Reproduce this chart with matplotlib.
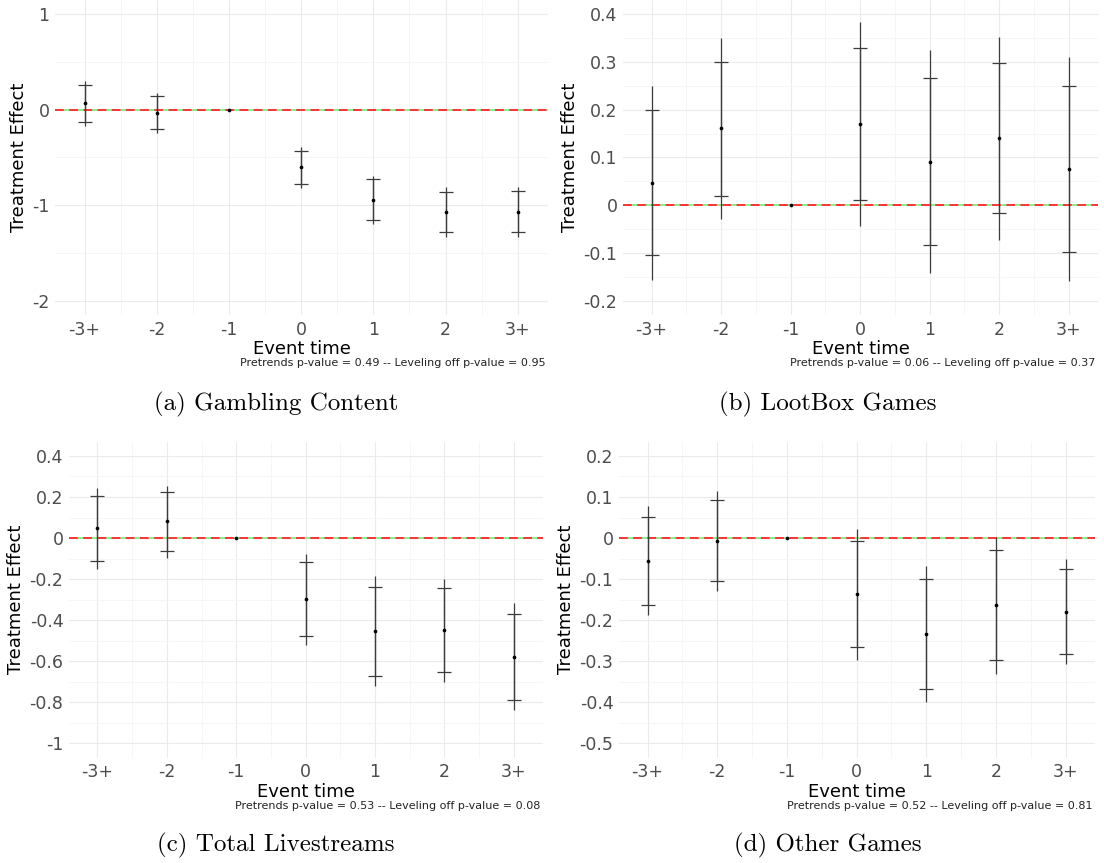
import numpy as np
import matplotlib.pyplot as plt
from matplotlib.ticker import FixedLocator

# event-study estimates
event_labels = ["-3+", "-2", "-1", "0", "1", "2", "3+"]
nan = np.nan

gambling_est = [0.07, -0.03, 0.0, -0.60, -0.946, -1.07, -1.068]
gambling_ci_lo = [-0.129, -0.20, nan, -0.776, -1.155, -1.284, -1.284]
gambling_ci_hi = [0.264, 0.143, nan, -0.43, -0.73, -0.86, -0.85]
gambling_sup_lo = [-0.17, -0.244, nan, -0.818, -1.20, -1.333, -1.333]
gambling_sup_hi = [0.30, 0.177, nan, -0.393, -0.696, -0.814, -0.81]

lootbox_est = [0.047, 0.161, 0.0, 0.170, 0.091, 0.141, 0.076]
lootbox_ci_lo = [-0.104, 0.020, nan, 0.010, -0.083, -0.016, -0.099]
lootbox_ci_hi = [0.199, 0.301, nan, 0.329, 0.266, 0.299, 0.250]
lootbox_sup_lo = [-0.157, -0.029, nan, -0.044, -0.143, -0.072, -0.159]
lootbox_sup_hi = [0.250, 0.350, nan, 0.383, 0.326, 0.353, 0.310]

streams_est = [0.047, 0.081, 0.0, -0.299, -0.453, -0.448, -0.578]
streams_ci_lo = [-0.114, -0.062, nan, -0.478, -0.671, -0.652, -0.788]
streams_ci_hi = [0.206, 0.224, nan, -0.119, -0.237, -0.245, -0.369]
streams_sup_lo = [-0.151, -0.096, nan, -0.522, -0.723, -0.702, -0.840]
streams_sup_hi = [0.242, 0.255, nan, -0.076, -0.187, -0.198, -0.318]

other_est = [-0.055, -0.0065, 0.0, -0.136, -0.234, -0.164, -0.179]
other_ci_lo = [-0.162, -0.104, nan, -0.266, -0.367, -0.298, -0.282]
other_ci_hi = [0.051, 0.092, nan, -0.007, -0.100, -0.030, -0.076]
other_sup_lo = [-0.188, -0.128, nan, -0.297, -0.400, -0.331, -0.307]
other_sup_hi = [0.077, 0.115, nan, 0.023, -0.069, 0.002, -0.051]

captions = ["(a) Gambling Content", "(b) LootBox Games",
            "(c) Total Livestreams", "(d) Other Games"]
pvalue_notes = [
    "Pretrends p-value = 0.49 -- Leveling off p-value = 0.95",
    "Pretrends p-value = 0.06 -- Leveling off p-value = 0.37",
    "Pretrends p-value = 0.53 -- Leveling off p-value = 0.08",
    "Pretrends p-value = 0.52 -- Leveling off p-value = 0.81",
]
y_ranges = [(-2, 1), (-0.2, 0.4), (-1, 0.4), (-0.5, 0.2)]
y_steps = [1.0, 0.1, 0.2, 0.1]

series = [
    (gambling_est, gambling_ci_lo, gambling_ci_hi, gambling_sup_lo, gambling_sup_hi),
    (lootbox_est, lootbox_ci_lo, lootbox_ci_hi, lootbox_sup_lo, lootbox_sup_hi),
    (streams_est, streams_ci_lo, streams_ci_hi, streams_sup_lo, streams_sup_hi),
    (other_est, other_ci_lo, other_ci_hi, other_sup_lo, other_sup_hi),
]

W, H = 1104, 863
# panel boxes in pixels: left, top, right, bottom
boxes = [(55, 0, 548, 315), (623, 0, 1098, 315),
         (69, 441.6, 543, 757.7), (619, 441.6, 1095, 757.7)]
caption_xy = [(276, 404), (828, 404), (276, 845), (828, 845)]

fig = plt.figure(figsize=(W / 100, H / 100), dpi=100)
x = np.arange(len(event_labels))


def fmt(v):
    if abs(v) < 1e-9:
        return "0"
    return f"{v:g}"


for i in range(4):
    l, t, r, b = boxes[i]
    ax = fig.add_axes([l / W, 1 - b / H, (r - l) / W, (b - t) / H])
    est, lo, hi, slo, shi = [np.array(s, dtype=float) for s in series[i]]

    ax.axhline(0, color="#77ee77", lw=1.2, zorder=2)
    ax.axhline(0, color="#ff3333", lw=1.4, ls=(0, (4.5, 2.8)), zorder=3)

    ax.vlines(x, slo, shi, color="#3c3c3c", lw=0.9, zorder=4)
    ax.errorbar(x, est, yerr=[est - lo, hi - est], fmt="none", ecolor="#3c3c3c",
                elinewidth=0.9, capsize=5.2, capthick=0.9, zorder=4)
    ax.scatter(x, est, s=7, color="black", zorder=5, linewidths=0)

    ylo, yhi = y_ranges[i]
    pad = 0.05 * (yhi - ylo)
    ax.set_ylim(ylo - pad, yhi + pad)
    ax.set_xlim(-0.41, 6.42)

    step = y_steps[i]
    major = np.round(np.arange(ylo, yhi + step / 2, step), 6)
    minor = np.round(np.arange(ylo - step / 2, yhi + step, step), 6)
    ax.yaxis.set_major_locator(FixedLocator(major))
    ax.yaxis.set_minor_locator(FixedLocator(minor))
    ax.set_yticklabels([fmt(v) for v in major])
    ax.set_xticks(x)
    ax.set_xticklabels(event_labels)
    ax.set_xticks(x[:-1] + 0.5, minor=True)

    ax.grid(which="major", color="#ebebeb", lw=0.8)
    ax.grid(which="minor", color="#f4f4f4", lw=0.55)
    ax.set_axisbelow(True)
    for sp in ax.spines.values():
        sp.set_visible(False)
    ax.tick_params(which="both", length=0)
    ax.tick_params(axis="both", labelsize=12.5, labelcolor="#4d4d4d", pad=4)

    ax.set_xlabel("Event time", fontsize=13, color="black", labelpad=1)
    ax.set_ylabel("Treatment Effect", fontsize=13, color="black", labelpad=3)

    ax.annotate(pvalue_notes[i], xy=(1, 0), xycoords="axes fraction",
                xytext=(-2, -34.5), textcoords="offset points",
                ha="right", va="center", fontsize=8, color="#222222")

    cx, cy = caption_xy[i]
    fig.text(cx / W, 1 - cy / H, captions[i], ha="center", va="center",
             fontsize=18, family="cmr10")

fig.savefig("out.png", dpi=100)
